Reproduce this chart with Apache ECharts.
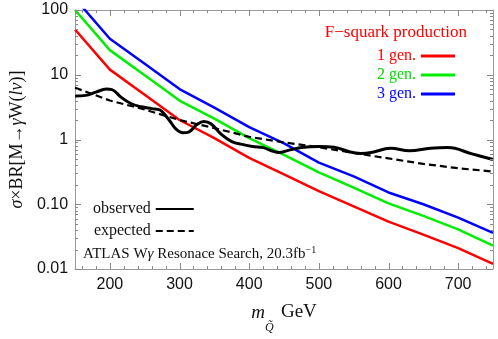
<!DOCTYPE html>
<html>
<head>
<meta charset="utf-8">
<script src="https://cdn.jsdelivr.net/npm/echarts@6/dist/echarts.min.js"></script>
<style>
  html, body { margin: 0; padding: 0; background: #fff; }
  #chart { width: 498px; height: 339px; }
</style>
</head>
<body>
<div id="chart"></div>
<script>
// squark masses (GeV) for the production curves
const massPoints = [150, 200, 250, 300, 350, 400, 450, 500, 550, 600, 650, 700, 750]
const gen1 = [50, 12, 4.9, 2.0, 1.05, 0.52, 0.29, 0.16, 0.093, 0.054, 0.034, 0.021, 0.012]
const gen2 = [100, 24, 9.8, 4.0, 2.1, 1.05, 0.58, 0.31, 0.18, 0.103, 0.066, 0.041, 0.023]
const gen3 = [150, 36, 14.8, 6.0, 3.1, 1.55, 0.87, 0.44, 0.27, 0.152, 0.1, 0.062, 0.036]

// ATLAS observed limit
const obsMass = [150, 165, 180, 195, 203, 215, 230, 245, 260, 272, 285, 295, 305, 313, 325, 335, 345, 360, 375, 390, 405, 420, 432, 443, 456, 475, 500, 522, 545, 560, 575, 603, 630, 660, 685, 720, 750]
const obsValues = [4.7, 4.8, 5.4, 6.0, 5.9, 4.6, 3.6, 3.2, 3.0, 2.85, 2.0, 1.45, 1.27, 1.3, 1.7, 1.9, 1.75, 1.2, 0.93, 0.84, 0.78, 0.75, 0.67, 0.63, 0.68, 0.75, 0.78, 0.76, 0.64, 0.61, 0.63, 0.73, 0.67, 0.73, 0.75, 0.6, 0.49]

// ATLAS expected limit
const expMass = [150, 200, 250, 300, 350, 400, 450, 500, 550, 600, 650, 700, 750]
const expValues = [6.3, 4.0, 2.9, 2.0, 1.5, 1.1, 0.9, 0.76, 0.62, 0.51, 0.42, 0.36, 0.32]

// ticks
const xMajorTicks = [200, 300, 400, 500, 600, 700]
const xMinorTicks = []
for (let v = 160; v <= 740; v += 20) {
  if (v % 100 !== 0) xMinorTicks.push(v)
}
const yMajorTicks = [0.01, 0.1, 1, 10, 100]
const yLabels = { '0.01': '0.01', '0.1': '0.10', '1': '1', '10': '10', '100': '100' }
const yMinorTicks = []
;[0.01, 0.1, 1, 10].forEach(d => {
  for (let k = 2; k <= 9; k++) yMinorTicks.push(+(d * k).toPrecision(3))
})

const pairs = (xs, ys) => xs.map((x, i) => [x, ys[i]])

const serif = 'Liberation Serif'
const sans = 'Liberation Sans'
const frameColor = '#999'
const tickColor = '#888'

const chart = echarts.init(document.getElementById('chart'))

const lineSeries = (name, data, color, width, opts) => Object.assign({
  name: name,
  type: 'line',
  data: data,
  symbol: 'none',
  clip: true,
  lineStyle: { color: color, width: width },
  itemStyle: { color: color },
  z: 3
}, opts || {})

const option = {
  animation: false,
  backgroundColor: '#fff',
  grid: { left: 72, right: 5, top: 10, bottom: 69, containLabel: false },
  title: [
    {
      text: 'F\u2212squark production',
      right: 26,
      top: 19,
      textStyle: { fontFamily: serif, fontSize: 17, fontWeight: 'normal', color: '#f00' }
    },
    {
      text: 'ATLAS W{i|γ} Resonace Search, 20.3fb{s|\u22121}',
      left: 78,
      top: 240,
      textStyle: {
        fontFamily: serif,
        fontSize: 15,
        fontWeight: 'normal',
        color: '#111',
        rich: {
          i: { fontFamily: serif, fontStyle: 'italic', fontSize: 15, color: '#111' },
          s: { fontFamily: serif, fontSize: 10, color: '#111', verticalAlign: 'top', padding: [0, 0, 8, 0] }
        }
      }
    }
  ],
  legend: [
    {
      data: [
        { name: '1 gen.', textStyle: { color: '#f00' } },
        { name: '2 gen.', textStyle: { color: '#0d0' } },
        { name: '3 gen.', textStyle: { color: '#00f' } }
      ],
      orient: 'vertical',
      align: 'right',
      right: 38,
      top: 43,
      itemGap: 3,
      itemWidth: 34,
      itemHeight: 3,
      icon: 'rect',
      selectedMode: false,
      textStyle: { fontFamily: serif, fontSize: 16 }
    },
    {
      data: ['observed', 'expected'],
      orient: 'vertical',
      align: 'right',
      left: 88,
      top: 196,
      itemGap: 6,
      itemWidth: 38,
      itemHeight: 16,
      selectedMode: false,
      itemStyle: { opacity: 0 },
      textStyle: { fontFamily: serif, fontSize: 16, color: '#111' }
    }
  ],
  xAxis: [
    {
      type: 'value',
      position: 'bottom',
      min: 150,
      max: 750,
      interval: 50,
      splitLine: { show: false },
      axisLine: { show: true, onZero: false, lineStyle: { color: frameColor } },
      axisTick: { show: false },
      axisLabel: {
        fontFamily: sans,
        fontSize: 16,
        color: '#111',
        margin: 8,
        formatter: v => (v % 100 === 0 ? String(v) : '')
      },
      name: '{m|m}{q|Q\u0303} {g|GeV}',
      nameLocation: 'middle',
      nameGap: 34,
      nameTextStyle: {
        rich: {
          m: { fontFamily: serif, fontStyle: 'italic', fontSize: 19, color: '#111' },
          q: { fontFamily: serif, fontStyle: 'italic', fontSize: 12, color: '#111', verticalAlign: 'bottom', padding: [0, 4, -12, 0] },
          g: { fontFamily: serif, fontSize: 19, color: '#111' }
        }
      }
    },
    {
      type: 'value',
      position: 'top',
      min: 150,
      max: 750,
      splitLine: { show: false },
      axisLine: { show: true, onZero: false, lineStyle: { color: frameColor } },
      axisTick: { show: false },
      axisLabel: { show: false }
    }
  ],
  yAxis: [
    {
      type: 'log',
      logBase: 10,
      position: 'left',
      min: 0.01,
      max: 100,
      splitLine: { show: false },
      axisLine: { show: true, onZero: false, lineStyle: { color: frameColor } },
      axisTick: { show: false },
      axisLabel: {
        fontFamily: sans,
        fontSize: 16,
        color: '#111',
        margin: 7,
        formatter: v => yLabels[String(+v.toPrecision(3))] || ''
      },
      name: '{i|σ}{n|×BR[M→}{i|γ}{n|W(}{i|lν}{n|)]}',
      nameLocation: 'middle',
      nameGap: 48,
      nameRotate: 90,
      nameTextStyle: {
        rich: {
          i: { fontFamily: serif, fontStyle: 'italic', fontSize: 18, color: '#111' },
          n: { fontFamily: serif, fontSize: 18, color: '#111' }
        }
      }
    },
    {
      type: 'log',
      logBase: 10,
      position: 'right',
      min: 0.01,
      max: 100,
      splitLine: { show: false },
      axisLine: { show: true, onZero: false, lineStyle: { color: frameColor } },
      axisTick: { show: false },
      axisLabel: { show: false }
    }
  ],
  series: [
    lineSeries('1 gen.', pairs(massPoints, gen1), '#f00', 2.5),
    lineSeries('2 gen.', pairs(massPoints, gen2), '#0e0', 2.5),
    lineSeries('3 gen.', pairs(massPoints, gen3), '#00f', 2.5),
    lineSeries('observed', pairs(obsMass, obsValues), '#000', 3, { smooth: 0.4 }),
    lineSeries('expected', pairs(expMass, expValues), '#000', 2.2, { lineStyle: { color: '#000', width: 2.2, type: [7, 4] } })
  ]
}

chart.setOption(option)

// frame ticks on all four sides, positioned through the axes' scales
const finder = { xAxisIndex: 0, yAxisIndex: 0 }
const toPx = p => chart.convertToPixel(finder, p)
const lo = toPx([150, 0.01])
const hi = toPx([750, 100])
const tickLines = []
const addTick = (x1, y1, x2, y2) => tickLines.push({
  type: 'line',
  silent: true,
  z: 100,
  shape: { x1: x1, y1: y1, x2: x2, y2: y2 },
  style: { stroke: tickColor, lineWidth: 1 }
})
const xTick = (v, len) => {
  const x = Math.round(toPx([v, 1])[0]) + 0.5
  addTick(x, lo[1], x, lo[1] - len)
  addTick(x, hi[1], x, hi[1] + len)
}
const yTick = (v, len) => {
  const y = Math.round(toPx([400, v])[1]) + 0.5
  addTick(lo[0], y, lo[0] + len, y)
  addTick(hi[0], y, hi[0] - len, y)
}
xMajorTicks.forEach(v => xTick(v, 6))
xMinorTicks.forEach(v => xTick(v, 3))
yMajorTicks.forEach(v => yTick(v, 6))
yMinorTicks.forEach(v => yTick(v, 3))

chart.setOption({ graphic: tickLines })
</script>
</body>
</html>
